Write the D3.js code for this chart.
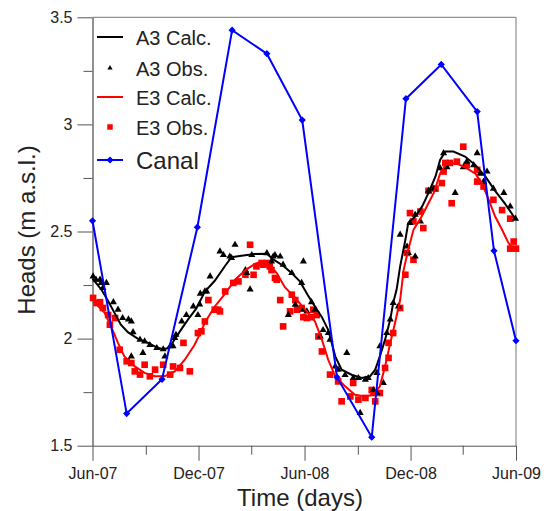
<!DOCTYPE html>
<html>
<head>
<meta charset="utf-8">
<script src="https://cdn.jsdelivr.net/npm/d3@7"></script>
<style>
  body { margin: 0; background: #fff; }
  svg { font-family: "Liberation Sans", Arial, sans-serif; }
</style>
</head>
<body>
<script>
const width = 547;
const height = 511;

// time is in days from 1 June 2007
const startDate = new Date(2007, 5, 1);
const endDate = new Date(2009, 5, 1);

const canalDays = [0, 59, 120, 181, 241, 301, 362, 422, 482, 541, 602, 664, 693, 731];
const canalHeads = [2.55, 1.65, 1.81, 2.52, 3.44, 3.33, 3.02, 1.82, 1.54, 3.12, 3.28, 3.06, 2.41, 1.99];

const a3Calc = [[0,2.28],[15,2.23],[26,2.18],[38,2.12],[49,2.065],[61,2.03],[78,2.00],[96,1.98],[110,1.96],
  [121,1.95],[130,1.955],[139,1.985],[150,2.03],[165,2.09],[179,2.14],[194,2.22],[211,2.27],[229,2.34],
  [240,2.38],[257,2.387],[280,2.395],[301,2.396],[312,2.37],[329,2.34],[344,2.305],[358,2.267],[373,2.197],
  [384,2.15],[396,2.10],[407,2.04],[419,1.917],[430,1.855],[448,1.83],[465,1.816],[479,1.824],[488,1.855],
  [496,1.917],[505,1.995],[514,2.09],[519,2.166],[525,2.23],[531,2.337],[540,2.46],[545,2.54],[557,2.57],
  [569,2.617],[580,2.68],[592,2.757],[600,2.834],[609,2.873],[623,2.873],[643,2.85],[661,2.81],[678,2.757],
  [695,2.69],[712,2.63],[731,2.555]];

const e3Calc = [[0,2.19],[3,2.17],[21,2.12],[32,2.057],[44,1.98],[55,1.917],[73,1.87],[90,1.84],[107,1.824],
  [124,1.824],[142,1.847],[159,1.90],[176,1.97],[185,2.02],[194,2.075],[211,2.15],[229,2.21],[246,2.275],
  [264,2.32],[281,2.35],[292,2.36],[303,2.35],[318,2.306],[332,2.24],[350,2.19],[367,2.135],[384,2.08],
  [396,1.995],[407,1.90],[419,1.824],[436,1.777],[453,1.738],[471,1.73],[485,1.738],[496,1.777],[505,1.87],
  [514,1.98],[522,2.07],[531,2.18],[537,2.32],[545,2.415],[554,2.508],[566,2.56],[577,2.617],[589,2.68],
  [600,2.77],[609,2.81],[626,2.82],[643,2.80],[661,2.77],[672,2.726],[684,2.648],[695,2.57],[707,2.508],
  [718,2.446],[730,2.407]];

const a3Obs = [[1,2.29],[6,2.275],[13,2.275],[15,2.26],[18,2.236],[24,2.26],[36,2.17],[44,2.135],[52,2.096],
  [62,2.09],[67,2.08],[70,2.03],[67,1.917],[82,1.995],[87,1.933],[90,1.987],[99,1.97],[111,1.956],[122,1.95],
  [125,1.917],[134,1.964],[139,1.964],[142,2.003],[144,2.018],[154,2.08],[162,2.11],[174,2.15],[182,2.11],
  [185,2.16],[186,2.21],[194,2.22],[197,2.22],[203,2.29],[220,2.407],[226,2.39],[237,2.383],[240,2.376],
  [246,2.438],[264,2.32],[266,2.306],[272,2.23],[275,2.39],[301,2.399],[309,2.36],[312,2.383],[315,2.39],
  [324,2.383],[329,2.345],[338,2.11],[344,2.306],[350,2.158],[361,2.26],[364,2.36],[364,2.135],[370,2.127],
  [378,2.17],[384,2.135],[393,2.01],[398,2.04],[407,2.026],[410,1.995],[419,1.87],[424,1.855],[436,1.83],
  [439,1.933],[450,1.816],[459,1.816],[462,1.653],[471,1.808],[476,1.816],[485,1.76],[491,1.746],[491,1.84],
  [496,1.964],[502,1.793],[508,2.026],[514,2.09],[519,2.166],[528,2.15],[531,2.485],[543,2.43],[545,2.40],
  [548,2.54],[557,2.578],[557,2.383],[566,2.547],[580,2.69],[589,2.70],[600,2.796],[606,2.866],[612,2.80],
  [626,2.68],[640,2.80],[646,2.826],[658,2.81],[664,2.866],[669,2.77],[675,2.733],[681,2.78],[692,2.70],
  [710,2.68],[721,2.617],[730,2.56]];

const e3Obs = [[1,2.19],[7,2.166],[13,2.17],[18,2.143],[27,2.11],[30,2.065],[39,2.096],[47,1.948],[59,1.894],
  [67,1.886],[73,1.847],[82,1.832],[90,1.878],[99,1.824],[108,1.855],[122,1.878],[134,1.832],[139,1.87],
  [151,1.863],[157,1.98],[168,1.847],[182,2.026],[188,2.034],[194,2.08],[200,2.18],[211,2.135],[217,2.135],
  [220,2.127],[229,2.22],[243,2.26],[252,2.267],[264,2.298],[272,2.438],[278,2.298],[283,2.337],[292,2.353],
  [295,2.345],[301,2.353],[306,2.337],[309,2.32],[315,2.283],[318,2.275],[324,2.18],[329,2.057],[341,2.127],
  [344,2.205],[350,2.18],[353,2.135],[361,2.143],[364,2.10],[370,2.096],[378,2.10],[381,2.135],[387,2.11],
  [390,2.01],[396,1.94],[410,1.832],[424,1.80],[430,1.707],[445,1.73],[450,1.793],[459,1.715],[471,1.723],
  [482,1.76],[485,1.746],[488,1.707],[496,1.746],[505,1.863],[511,1.91],[511,1.98],[519,2.026],[531,2.143],
  [540,2.298],[543,2.40],[548,2.586],[554,2.547],[554,2.368],[566,2.593],[571,2.516],[580,2.69],[592,2.70],
  [603,2.726],[606,2.78],[609,2.82],[617,2.82],[620,2.632],[629,2.826],[640,2.896],[646,2.81],[664,2.788],
  [664,2.733],[675,2.71],[692,2.648],[707,2.60],[721,2.56],[727,2.453],[721,2.42],[731,2.42]];

const yTicks = [1.5, 2, 2.5, 3, 3.5];
const yMinorTicks = [1.75, 2.25, 2.75, 3.25];

const legendItems = ["A3 Calc.", "A3 Obs.", "E3 Calc.", "E3 Obs.", "Canal"];

const plotLeft = 92.5, plotRight = 516, plotTop = 17.3, plotBottom = 445.7;
const axisColor = "#555";
const textColor = "#222";

const svg = d3.select("body").append("svg")
  .attr("width", width)
  .attr("height", height);

const x = d3.scaleTime().domain([startDate, endDate]).range([plotLeft, plotRight]);
const y = d3.scaleLinear().domain([1.5, 3.5]).range([plotBottom, plotTop]);

const day = d => d3.timeDay.offset(startDate, d);

// months from Jun-07 to Jun-09: major every 6, minor every 3
const months = d3.timeMonth.range(startDate, d3.timeDay.offset(endDate, 1));
const xMajorTicks = months.filter((m, i) => i % 6 === 0);
const xMinorTicks = months.filter((m, i) => i % 6 === 3);

// frame top and right
svg.append("path")
  .attr("d", `M${plotLeft},${plotTop}H${plotRight}V${plotBottom}`)
  .attr("fill", "none")
  .attr("stroke", "#777")
  .attr("stroke-width", 1);

// x axis
const xMinor = svg.append("g").attr("transform", `translate(0,${plotBottom})`)
  .call(d3.axisBottom(x).tickValues(xMinorTicks).tickSize(9).tickFormat(""));
xMinor.select(".domain").remove();
const xMajor = svg.append("g").attr("transform", `translate(0,${plotBottom})`)
  .call(d3.axisBottom(x).tickValues(xMajorTicks)
    .tickSize(15).tickSizeOuter(0).tickPadding(7).tickFormat(d3.timeFormat("%b-%y")));
xMajor.selectAll("text").attr("font-size", 16).attr("fill", textColor).attr("font-family", "Liberation Sans, Arial, sans-serif");
xMajor.select(".domain").attr("stroke", axisColor);

// y axis
const yMinor = svg.append("g").attr("transform", `translate(${plotLeft},0)`)
  .call(d3.axisLeft(y).tickValues(yMinorTicks).tickSize(9).tickFormat(""));
yMinor.select(".domain").remove();
const yMajor = svg.append("g").attr("transform", `translate(${plotLeft},0)`)
  .call(d3.axisLeft(y).tickValues(yTicks).tickSize(15).tickSizeOuter(0).tickPadding(5).tickFormat(d3.format("")));
yMajor.selectAll("text").attr("font-size", 16).attr("fill", textColor).attr("font-family", "Liberation Sans, Arial, sans-serif");
yMajor.select(".domain").attr("stroke", axisColor).attr("stroke-width", 1.3);
svg.selectAll(".tick line").attr("stroke", axisColor);

// axis titles
svg.append("text")
  .text("Time (days)")
  .attr("x", 300)
  .attr("y", 506)
  .attr("text-anchor", "middle")
  .attr("font-size", 24)
  .attr("fill", textColor);

svg.append("text")
  .text("Heads (m a.s.l.)")
  .attr("transform", "translate(35,230) rotate(-90)")
  .attr("text-anchor", "middle")
  .attr("font-size", 24)
  .attr("fill", textColor);

const line = d3.line().x(d => x(day(d[0]))).y(d => y(d[1]));

const triangle = d3.symbol(d3.symbolTriangle, 22);
const square = d3.symbol(d3.symbolSquare, 44);
const diamond = d3.symbol(d3.symbolSquare, 26);

// observations
svg.append("g").selectAll("path")
  .data(e3Obs).enter().append("path")
  .attr("d", square)
  .attr("transform", d => `translate(${x(day(d[0]))},${y(d[1])})`)
  .attr("fill", "#ff0000");

svg.append("g").selectAll("path")
  .data(a3Obs).enter().append("path")
  .attr("d", triangle)
  .attr("transform", d => `translate(${x(day(d[0]))},${y(d[1])})`)
  .attr("fill", "#000");

// calculated
svg.append("path")
  .datum(e3Calc)
  .attr("d", line)
  .attr("fill", "none")
  .attr("stroke", "#ff0000")
  .attr("stroke-width", 2);

svg.append("path")
  .datum(a3Calc)
  .attr("d", line)
  .attr("fill", "none")
  .attr("stroke", "#000")
  .attr("stroke-width", 2);

// canal
const canal = canalDays.map((d, i) => [d, canalHeads[i]]);
svg.append("path")
  .datum(canal)
  .attr("d", line)
  .attr("fill", "none")
  .attr("stroke", "#0000ff")
  .attr("stroke-width", 2);

svg.append("g").selectAll("path")
  .data(canal).enter().append("path")
  .attr("d", diamond)
  .attr("transform", d => `translate(${x(day(d[0]))},${y(d[1])}) rotate(45)`)
  .attr("fill", "#0000ff");

// legend
const legendRows = [37, 68, 97, 127, 160];
const legend = svg.append("g");
legendItems.forEach((name, i) => {
  const ly = legendRows[i];
  const big = name === "Canal";
  if (i === 0 || i === 2 || i === 4) {
    legend.append("line")
      .attr("x1", 97).attr("x2", 123)
      .attr("y1", ly).attr("y2", ly)
      .attr("stroke", i === 0 ? "#000" : i === 2 ? "#ff0000" : "#0000ff")
      .attr("stroke-width", 2);
  }
  if (i === 1) {
    legend.append("path").attr("d", d3.symbol(d3.symbolTriangle, 12))
      .attr("transform", `translate(110,${ly})`).attr("fill", "#000");
  }
  if (i === 3) {
    legend.append("path").attr("d", d3.symbol(d3.symbolSquare, 30))
      .attr("transform", `translate(110,${ly})`).attr("fill", "#ff0000");
  }
  if (i === 4) {
    legend.append("path").attr("d", diamond)
      .attr("transform", `translate(110,${ly}) rotate(45)`).attr("fill", "#0000ff");
  }
  legend.append("text")
    .text(name)
    .attr("x", 136)
    .attr("y", ly + (big ? 8.5 : 7.5))
    .attr("font-size", big ? 24 : 20)
    .attr("fill", textColor);
});
</script>
</body>
</html>
